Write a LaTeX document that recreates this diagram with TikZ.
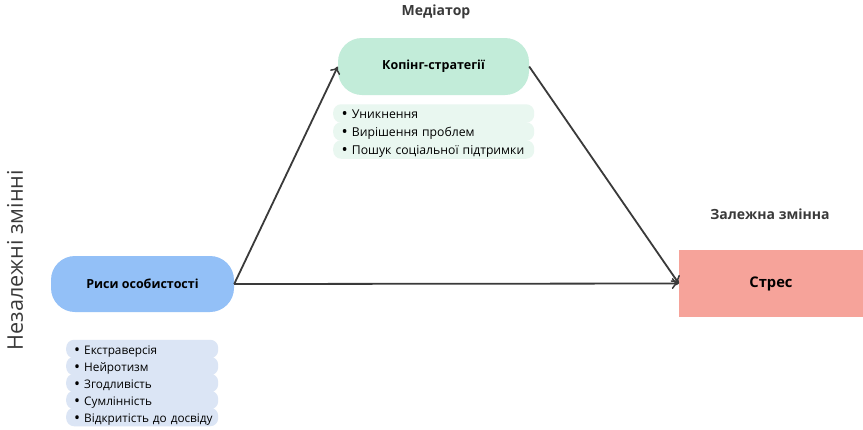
\documentclass[tikz,border=0pt]{standalone}
\usepackage{fontspec}
\setmainfont{Open Sans}
\usetikzlibrary{arrows.meta}
\definecolor{mint}{HTML}{C2ECD9}
\definecolor{mintlight}{HTML}{E9F7F0}
\definecolor{bluebox}{HTML}{93C0F7}
\definecolor{bluelight}{HTML}{DBE5F5}
\definecolor{redbox}{HTML}{F6A39A}
\definecolor{ink}{HTML}{3A3A3A}
\newcommand{\bul}{\raisebox{-1.4pt}{\scalebox{1.35}{\textbullet}}}
\tikzset{
  mainbox/.style={rectangle, rounded corners=24pt, font=\bfseries\fontsize{12.5}{14}\selectfont, text=black, inner sep=0pt},
  rowbox/.style={rectangle, rounded corners=8pt, minimum height=18.5pt, inner sep=0pt, text height=10pt, text depth=0pt, text=black, font=\fontsize{12.2}{14}\selectfont, anchor=west, align=left},
  title/.style={font=\bfseries\fontsize{14}{16}\selectfont, text=ink},
  conn/.style={draw=ink, line width=1.8pt, -{To[length=7pt,width=11pt,line width=1.5pt]}}
}
\begin{document}
\begin{tikzpicture}[x=1pt,y=-1pt]
\useasboundingbox (0,0) rectangle (863,429);
\fill[white] (0,0) rectangle (863,429);
% titles
\node[title] (tmed) at (436,12) {Медіатор};
\node[title] (tdep) at (770,214) {Залежна змінна};
\node[font=\fontsize{21.6}{24}\selectfont, text=ink, rotate=90] (tind) at (15,260) {Незалежні змінні};
% main boxes
\node[mainbox, fill=mint, minimum width=191pt, minimum height=57pt] (cop) at (433.5,66.5) {Копінг-стратегії};
\node[mainbox, fill=bluebox, minimum width=183pt, minimum height=56pt] (per) at (142.5,284) {Риси особистості};
\node[rectangle, fill=redbox, minimum width=184pt, minimum height=67pt, inner sep=0pt, font=\bfseries\fontsize{14.7}{16}\selectfont] (str) at (771,283.5) {Стрес};
% coping list
\foreach \t [count=\i] in {Уникнення, Вирішення проблем, Пошук соціальної підтримки}{
  \node[rowbox, fill=mintlight, minimum width=201pt, text width=199pt] (c\i) at (333,{95.5+\i*18}) {\hspace{7.5pt}\bul\hspace{4pt}\t};
}
% personality list
\foreach \t [count=\i] in {Екстраверсія, Нейротизм, Згодливість, Сумлінність, Відкритість до досвіду}{
  \node[rowbox, fill=bluelight, minimum width=152pt, text width=152pt, font=\fontsize{11.8}{13}\selectfont] (p\i) at (66,{332+\i*17}) {\hspace{8pt}\bul\hspace{4pt}\t};
}
% connectors
\draw[conn] (per.east) -- (cop.west);
\draw[conn] (cop.east) -- (str.west);
\draw[conn] (per.east) -- (str.west);
\end{tikzpicture}
\end{document}
